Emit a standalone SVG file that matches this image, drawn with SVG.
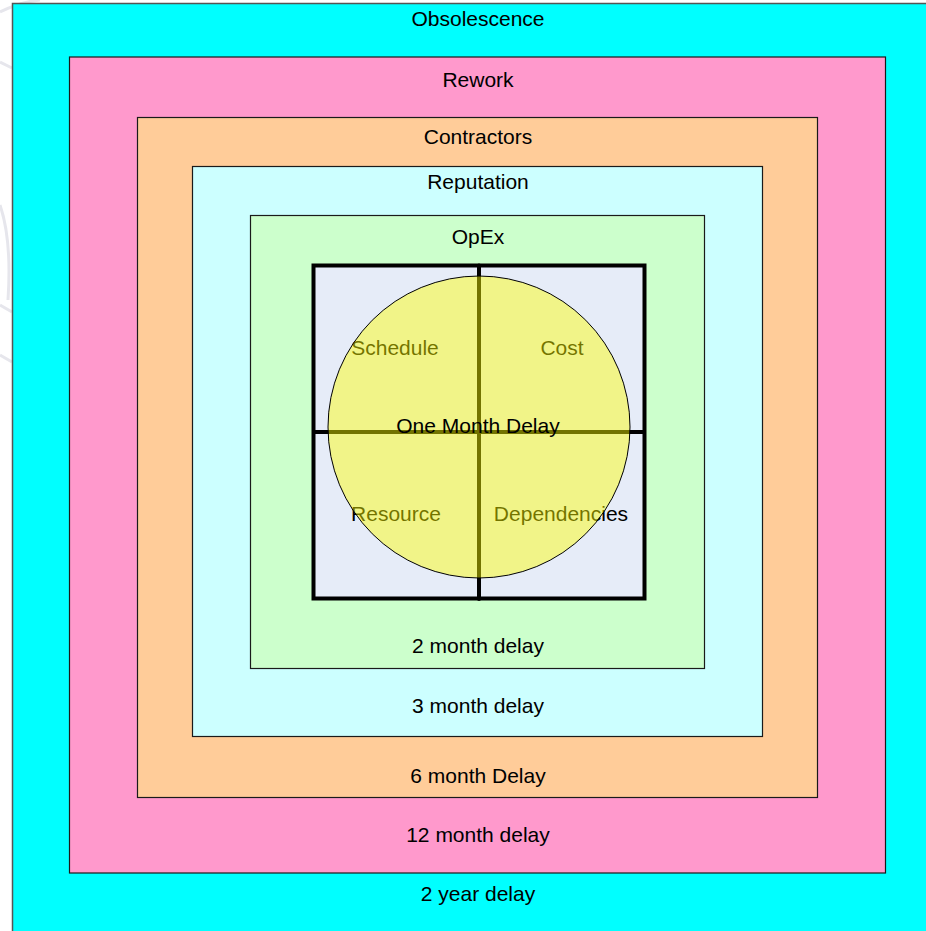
<svg xmlns="http://www.w3.org/2000/svg" width="926" height="931" viewBox="0 0 926 931">
<style>
text{font-family:"Liberation Sans",Arial,sans-serif;font-size:21px;fill:#000;text-anchor:middle}
.ring{stroke:#1a1a1a;stroke-width:1.2}
.grid{stroke:#000;stroke-width:4;stroke-linecap:round}
.wm{fill:none;stroke:#e6e6ec;stroke-width:3}
</style>
<rect width="926" height="931" fill="#fff"/>
<g id="watermark">
<path class="wm" d="M0 12 Q20 2 40 0"/>
<path class="wm" d="M0 62 L12 68"/>
<path class="wm" d="M0 205 Q12 240 8 300"/>
<path class="wm" d="M0 305 L12 312"/>
<path class="wm" d="M0 355 L12 362"/>
</g>
<g id="obsolescence">
<rect x="12.5" y="3.5" width="930" height="940" fill="#00FFFF" stroke="#555" stroke-width="1.5"/>
<text x="478" y="26">Obsolescence</text>
<text x="478" y="901">2 year delay</text>
</g>
<g id="rework">
<rect class="ring" x="69.5" y="57" width="816" height="816" fill="#FF99CC"/>
<text x="478" y="87">Rework</text>
<text x="478" y="842">12 month delay</text>
</g>
<g id="contractors">
<rect class="ring" x="137.5" y="117.5" width="680" height="680" fill="#FFCC99"/>
<text x="478" y="144">Contractors</text>
<text x="478" y="783">6 month Delay</text>
</g>
<g id="reputation">
<rect class="ring" x="192.5" y="166.5" width="570" height="570" fill="#CCFFFF"/>
<text x="478" y="189">Reputation</text>
<text x="478" y="713">3 month delay</text>
</g>
<g id="opex">
<rect class="ring" x="250.5" y="215.5" width="454" height="453" fill="#CCFFCC"/>
<text x="478" y="244">OpEx</text>
<text x="478" y="653">2 month delay</text>
</g>
<g id="quadrants">
<rect class="grid" x="313.5" y="265.5" width="331" height="333" fill="#E6ECF8"/>
</g>
<g id="connectors">
<line class="grid" x1="479" y1="265.5" x2="479" y2="599"/>
<line class="grid" x1="314" y1="432" x2="644" y2="432"/>
</g>
<g id="labels">
<text x="395" y="355">Schedule</text>
<text x="562" y="355">Cost</text>
<text x="396" y="521">Resource</text>
<text x="561" y="521">Dependencies</text>
</g>
<g id="one-month-delay">
<circle cx="479" cy="427" r="151" fill="#FFFF00" fill-opacity="0.45" stroke="#000" stroke-width="1"/>
<text x="478" y="433">One Month Delay</text>
</g>
</svg>
